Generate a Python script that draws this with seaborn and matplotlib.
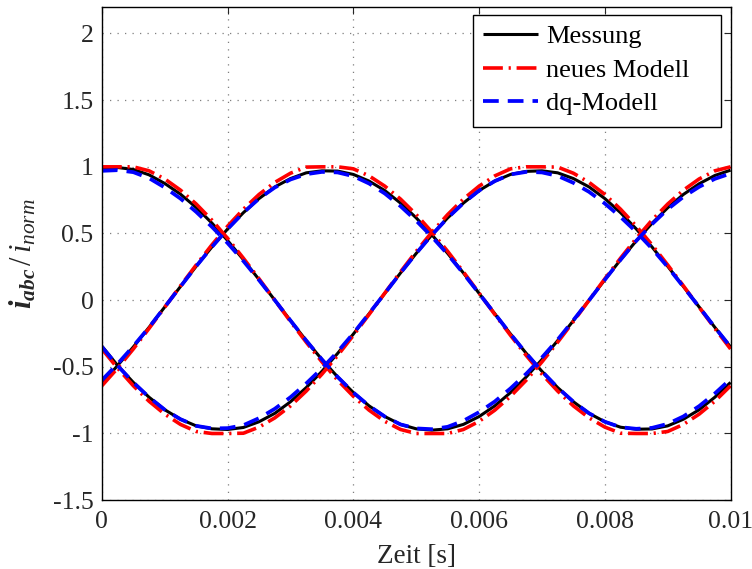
import numpy as np
import pandas as pd
import matplotlib
matplotlib.use("Agg")
import matplotlib.pyplot as plt
from matplotlib.patches import Rectangle
import seaborn as sns

# Sample times [s]
t = [round(0.00025 * k, 5) for k in range(41)]

# Measured phase currents (normalised)
mess_a = [0.985, 0.995, 0.980, 0.940, 0.875, 0.795, 0.695, 0.578, 0.447, 0.304, 0.154,
          0.000, -0.153, -0.303, -0.445, -0.576, -0.693, -0.793, -0.873, -0.932, -0.965,
          -0.975, -0.965, -0.932, -0.873, -0.793, -0.693, -0.576, -0.445, -0.303, -0.153,
          0.000, 0.153, 0.303, 0.445, 0.576, 0.693, 0.793, 0.873, 0.935, 0.975]
mess_b = [-0.625, -0.490, -0.351, -0.204, -0.051, 0.102, 0.254, 0.399, 0.534, 0.656, 0.762,
          0.849, 0.912, 0.955, 0.970, 0.968, 0.943, 0.893, 0.822, 0.728, 0.617,
          0.490, 0.351, 0.204, 0.051, -0.102, -0.254, -0.399, -0.534, -0.656, -0.762,
          -0.849, -0.912, -0.953, -0.968, -0.966, -0.943, -0.893, -0.822, -0.728, -0.617]
mess_c = [-0.345, -0.490, -0.617, -0.728, -0.822, -0.893, -0.943, -0.965, -0.970, -0.955, -0.912,
          -0.849, -0.762, -0.656, -0.534, -0.399, -0.254, -0.102, 0.051, 0.204, 0.351,
          0.490, 0.617, 0.728, 0.822, 0.893, 0.943, 0.966, 0.970, 0.955, 0.912,
          0.849, 0.762, 0.656, 0.534, 0.399, 0.254, 0.102, -0.051, -0.204, -0.351]

# New model
neu_a = [1.000, 1.000, 1.000, 0.970, 0.909, 0.825, 0.721, 0.600, 0.463, 0.315, 0.160,
         0.000, -0.160, -0.315, -0.463, -0.600, -0.721, -0.825, -0.909, -0.970, -1.000,
         -1.000, -1.000, -0.970, -0.909, -0.825, -0.721, -0.600, -0.463, -0.315, -0.160,
         0.000, 0.160, 0.315, 0.463, 0.600, 0.721, 0.825, 0.909, 0.970, 1.000]
neu_b = [-0.642, -0.510, -0.366, -0.212, -0.053, 0.107, 0.264, 0.415, 0.555, 0.682, 0.793,
         0.883, 0.952, 0.998, 1.000, 1.000, 0.985, 0.932, 0.855, 0.758, 0.642,
         0.510, 0.366, 0.212, 0.053, -0.107, -0.264, -0.415, -0.555, -0.682, -0.793,
         -0.883, -0.952, -0.998, -1.000, -1.000, -0.985, -0.932, -0.855, -0.758, -0.642]
neu_c = [-0.366, -0.510, -0.642, -0.758, -0.855, -0.932, -0.985, -1.000, -1.000, -0.998, -0.952,
         -0.883, -0.793, -0.682, -0.555, -0.415, -0.264, -0.107, 0.053, 0.212, 0.366,
         0.510, 0.642, 0.758, 0.855, 0.932, 0.985, 1.000, 1.000, 0.998, 0.952,
         0.883, 0.793, 0.682, 0.555, 0.415, 0.264, 0.107, -0.053, -0.212, -0.366]

# dq model
dq_a = [0.970, 0.975, 0.960, 0.915, 0.845, 0.762, 0.662, 0.550, 0.428, 0.294, 0.150,
        0.000, -0.153, -0.303, -0.445, -0.576, -0.693, -0.793, -0.873, -0.932, -0.962,
        -0.968, -0.950, -0.905, -0.840, -0.760, -0.662, -0.552, -0.430, -0.296, -0.150,
        0.000, 0.153, 0.303, 0.445, 0.570, 0.682, 0.775, 0.850, 0.910, 0.950]
dq_b = [-0.600, -0.478, -0.345, -0.204, -0.051, 0.102, 0.254, 0.399, 0.534, 0.656, 0.762,
        0.845, 0.905, 0.945, 0.962, 0.958, 0.930, 0.875, 0.800, 0.705, 0.596,
        0.475, 0.344, 0.200, 0.050, -0.102, -0.254, -0.399, -0.534, -0.656, -0.762,
        -0.849, -0.912, -0.953, -0.965, -0.958, -0.928, -0.872, -0.795, -0.700, -0.592]
dq_c = [-0.350, -0.492, -0.617, -0.728, -0.822, -0.893, -0.943, -0.962, -0.960, -0.938, -0.885,
        -0.815, -0.728, -0.625, -0.512, -0.387, -0.249, -0.100, 0.051, 0.204, 0.351,
        0.490, 0.617, 0.728, 0.822, 0.893, 0.943, 0.962, 0.958, 0.932, 0.880,
        0.812, 0.725, 0.624, 0.512, 0.387, 0.249, 0.100, -0.051, -0.204, -0.351]

x_ticks = [0, 0.002, 0.004, 0.006, 0.008, 0.01]
x_ticklabels = ["0", "0.002", "0.004", "0.006", "0.008", "0.01"]
y_ticks = [-1.5, -1, -0.5, 0, 0.5, 1, 1.5, 2]
y_ticklabels = ["-1.5", "-1", "-0.5", "0", "0.5", "1", "1.5", "2"]

models = ["Messung", "neues Modell", "dq-Modell"]
series = {
    "Messung": [mess_a, mess_b, mess_c],
    "neues Modell": [neu_a, neu_b, neu_c],
    "dq-Modell": [dq_a, dq_b, dq_c],
}
colors = {"Messung": "#000000", "neues Modell": "#ff0000", "dq-Modell": "#0000ff"}
styles = {
    "Messung": dict(linestyle="-", linewidth=2.2),
    "neues Modell": dict(linestyle=(0, (5.5, 1.6, 0.6, 1.6)), linewidth=2.6),
    "dq-Modell": dict(linestyle=(0, (4.2, 2.4)), linewidth=2.7),
}

rows = []
for m in models:
    for ph, vals in zip("abc", series[m]):
        for ti, v in zip(t, vals):
            rows.append((m, ph, ti, v))
df = pd.DataFrame(rows, columns=["modell", "phase", "zeit", "strom"])

sns.set_theme(style="white")
plt.rcParams["font.family"] = ["Liberation Serif", "DejaVu Serif"]
plt.rcParams["mathtext.fontset"] = "custom"
plt.rcParams["mathtext.rm"] = "Liberation Serif"
plt.rcParams["mathtext.it"] = "Liberation Serif:italic"
plt.rcParams["mathtext.bf"] = "Liberation Serif:italic:bold"

text_color = "#262626"

fig = plt.figure(figsize=(7.52, 5.69), dpi=100)
ax = fig.add_axes([0.1355, 0.121, 0.836, 0.867])

for m in models:
    sub = df[df["modell"] == m]
    for i, ph in enumerate("abc"):
        d = sub[sub["phase"] == ph]
        sns.lineplot(data=d, x="zeit", y="strom", ax=ax, color=colors[m],
                     estimator=None, sort=False,
                     label=m if i == 0 else None, legend=False,
                     solid_capstyle="butt", dash_capstyle="butt",
                     **styles[m])

ax.set_xlim(0, 0.01)
ax.set_ylim(-1.5, 2.2)
ax.set_xticks(x_ticks)
ax.set_xticklabels(x_ticklabels)
ax.set_yticks(y_ticks)
ax.set_yticklabels(y_ticklabels)
ax.tick_params(direction="in", length=5, width=0.8, top=True, right=True,
               labelsize=18.5, colors=text_color)
ax.tick_params(axis="x", pad=8)
ax.tick_params(axis="y", pad=6)
for sp in ax.spines.values():
    sp.set_visible(True)
    sp.set_color("black")
    sp.set_linewidth(1.0)
ax.grid(True, color="#7f7f7f", linestyle=(0, (1, 5)), linewidth=0.9)

ax.set_xlabel("Zeit [s]", fontsize=19.5, color=text_color, labelpad=8)
ax.set_ylabel(r"$\mathbf{i_{abc}}\,/\,i_{norm}$", fontsize=22, color=text_color, labelpad=10)

# Legend box with generous inner margin, drawn as a separate frame
box = Rectangle((473 / 752, 1 - 127 / 569), 248 / 752, 112 / 569,
                transform=fig.transFigure, facecolor="white", edgecolor="black",
                linewidth=1.0, zorder=4.9, clip_on=False)
ax.add_patch(box)

handles, labels = ax.get_legend_handles_labels()
leg = ax.legend(handles, labels, loc="upper left", fontsize=19, frameon=False,
                bbox_to_anchor=(483 / 752, 1 - 25 / 569), bbox_transform=fig.transFigure,
                handlelength=2.1, handletextpad=0.3, borderpad=0.0,
                labelspacing=0.38, borderaxespad=0.0)
leg.set_zorder(5)
for txt in leg.get_texts():
    txt.set_color("black")

fig.savefig("out.png", dpi=100)
